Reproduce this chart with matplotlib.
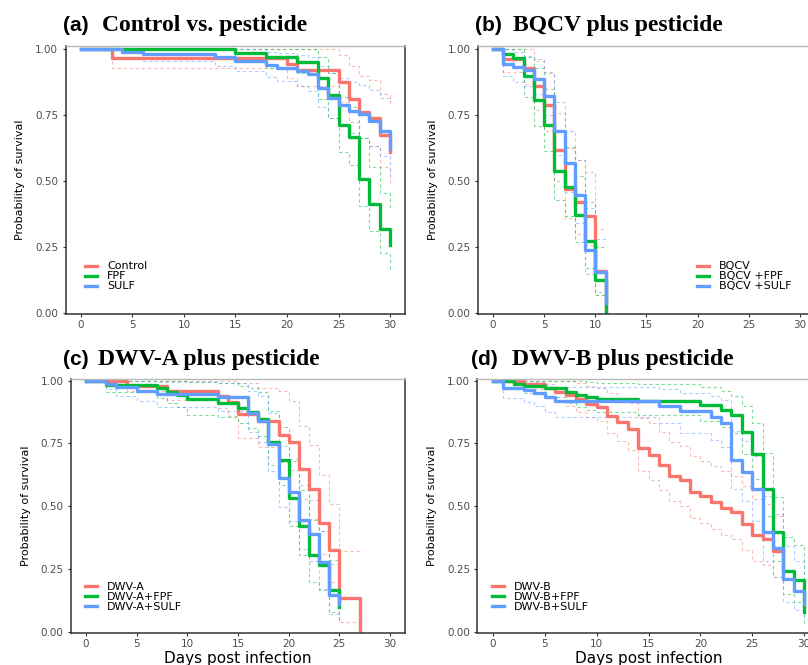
"""
Kaplan-Meier survival curves for the four infection / pesticide groups,
redrawn from the published figure (values read off the picture).
"""
import numpy as np
import matplotlib
matplotlib.use("Agg")
import matplotlib.pyplot as plt

W, H = 808, 665
nan = np.nan

# default ggplot colours for three groups
RED = "#F8766D"
GREEN = "#00BA38"
BLUE = "#619CFF"

# ---- (a) control vs pesticide ----
ctrl_t = [0, 3, 20, 21, 25, 26, 27, 28, 29, 30]
ctrl_s = [1.0, 0.966, 0.943, 0.921, 0.876, 0.81, 0.764, 0.74, 0.676, 0.612]
ctrl_up = [1.0, 1.0, 1.0, 1.0, 0.978, 0.935, 0.90, 0.883, 0.83, 0.78]
ctrl_lo = [1.0, 0.928, 0.89, 0.862, 0.80, 0.725, 0.665, 0.635, 0.555, 0.49]

fpf_t = [0, 15, 18, 21, 23, 24, 25, 26, 27, 28, 29, 30]
fpf_s = [1.0, 0.985, 0.97, 0.953, 0.89, 0.826, 0.713, 0.667, 0.51, 0.414, 0.318, 0.26]
fpf_up = [1.0, 1.0, 1.0, 1.0, 0.97, 0.91, 0.82, 0.78, 0.665, 0.555, 0.457, 0.39]
fpf_lo = [1.0, 0.957, 0.93, 0.91, 0.81, 0.738, 0.612, 0.56, 0.408, 0.31, 0.228, 0.165]

sulf_t = [0, 4, 6, 13, 15, 18, 19, 21, 22, 23, 24, 25, 26, 27, 28, 29, 30]
sulf_s = [1.0, 0.989, 0.981, 0.97, 0.956, 0.94, 0.928, 0.918, 0.905, 0.852, 0.815,
          0.79, 0.765, 0.753, 0.727, 0.689, 0.622]
sulf_up = [1.0, 1.0, 1.0, 1.0, 1.0, 0.99, 0.985, 0.98, 0.97, 0.935, 0.91, 0.89,
           0.875, 0.865, 0.845, 0.815, 0.80]
sulf_lo = [1.0, 0.968, 0.955, 0.938, 0.918, 0.895, 0.878, 0.862, 0.842, 0.782, 0.74,
           0.71, 0.682, 0.665, 0.632, 0.594, 0.52]

# ---- (b) BQCV plus pesticide ----
bqcv_t = [0, 1, 3, 4, 5, 6, 7, 8, 9, 10, 11]
bqcv_s = [1.0, 0.965, 0.93, 0.86, 0.788, 0.617, 0.47, 0.423, 0.367, 0.16, 0.0]
bqcv_up = [1.0, 1.0, 1.0, 0.955, 0.915, 0.757, 0.625, 0.58, 0.535, 0.32, nan]
bqcv_lo = [1.0, 0.915, 0.87, 0.77, 0.69, 0.50, 0.36, 0.30, 0.26, 0.07, nan]

bfpf_t = [0, 1, 2, 3, 4, 5, 6, 7, 8, 9, 10, 11]
bfpf_s = [1.0, 0.984, 0.968, 0.9, 0.808, 0.715, 0.537, 0.478, 0.374, 0.272, 0.127, 0.0]
bfpf_up = [1.0, 1.0, 1.0, 0.97, 0.93, 0.85, 0.69, 0.63, 0.52, 0.42, 0.25, nan]
bfpf_lo = [1.0, 0.958, 0.93, 0.82, 0.71, 0.615, 0.43, 0.37, 0.27, 0.17, 0.07, nan]

bsulf_t = [0, 1, 2, 3, 4, 5, 6, 7, 8, 9, 10, 11]
bsulf_s = [1.0, 0.945, 0.933, 0.92, 0.888, 0.823, 0.69, 0.568, 0.447, 0.24, 0.156, 0.037]
bsulf_up = [1.0, 1.0, 0.99, 0.975, 0.965, 0.91, 0.80, 0.69, 0.58, 0.40, 0.28, nan]
bsulf_lo = [1.0, 0.90, 0.875, 0.86, 0.83, 0.75, 0.60, 0.46, 0.34, 0.15, 0.08, nan]

# ---- (c) DWV-A plus pesticide ----
dwva_t = [0, 4, 8, 13, 14, 15, 17, 19, 20, 21, 22, 23, 24, 25, 27]
dwva_s = [1.0, 0.98, 0.96, 0.94, 0.915, 0.868, 0.838, 0.782, 0.756, 0.649, 0.57,
          0.434, 0.325, 0.134, 0.0]
dwva_up = [1.0, 1.0, 1.0, 1.0, 1.0, 0.99, 0.97, 0.96, 0.92, 0.82, 0.745, 0.625,
           0.51, 0.32, nan]
dwva_lo = [1.0, 0.96, 0.925, 0.89, 0.86, 0.77, 0.735, 0.675, 0.645, 0.53, 0.45,
           0.31, 0.20, 0.04, nan]

afpf_t = [0, 2, 7, 8, 9, 10, 13, 15, 16, 17, 18, 19, 20, 21, 22, 23, 24, 25]
afpf_s = [1.0, 0.984, 0.97, 0.956, 0.943, 0.926, 0.91, 0.893, 0.876, 0.849, 0.756,
          0.684, 0.533, 0.421, 0.307, 0.265, 0.165, 0.098]
afpf_up = [1.0, 1.0, 1.0, 1.0, 1.0, 0.995, 0.99, 0.98, 0.97, 0.955, 0.88, 0.815,
           0.68, 0.565, 0.445, 0.40, 0.285, 0.20]
afpf_lo = [1.0, 0.955, 0.93, 0.91, 0.895, 0.865, 0.855, 0.83, 0.81, 0.78, 0.665,
           0.585, 0.42, 0.305, 0.20, 0.165, 0.08, 0.04]

asulf_t = [0, 2, 3, 5, 7, 13, 16, 17, 18, 19, 20, 21, 22, 23, 24, 25]
asulf_s = [1.0, 0.988, 0.975, 0.959, 0.946, 0.935, 0.873, 0.838, 0.749, 0.612, 0.557,
           0.444, 0.391, 0.277, 0.147, 0.11]
asulf_up = [1.0, 1.0, 1.0, 1.0, 0.995, 0.99, 0.96, 0.94, 0.87, 0.74, 0.69, 0.585,
            0.525, 0.40, 0.27, 0.22]
asulf_lo = [1.0, 0.965, 0.94, 0.92, 0.895, 0.88, 0.795, 0.755, 0.64, 0.495, 0.44,
            0.33, 0.28, 0.17, 0.07, 0.05]

# ---- (d) DWV-B plus pesticide ----
dwvb_t = [0, 3, 5, 6, 7, 8, 9, 10, 11, 12, 13, 14, 15, 16, 17, 18, 19, 20, 21, 22,
          23, 24, 25, 26, 27, 28]
dwvb_s = [1.0, 0.988, 0.971, 0.957, 0.944, 0.928, 0.908, 0.896, 0.86, 0.835, 0.807,
          0.73, 0.703, 0.665, 0.62, 0.603, 0.556, 0.539, 0.517, 0.493, 0.477, 0.43,
          0.384, 0.368, 0.32, 0.32]
dwvb_up = [1.0, 1.0, 1.0, 1.0, 1.0, 0.99, 0.98, 0.97, 0.95, 0.93, 0.91, 0.85, 0.83,
           0.795, 0.755, 0.74, 0.70, 0.68, 0.66, 0.64, 0.62, 0.58, 0.53, 0.51, 0.46,
           0.46]
dwvb_lo = [1.0, 0.965, 0.94, 0.92, 0.90, 0.875, 0.855, 0.84, 0.79, 0.76, 0.725, 0.64,
           0.605, 0.565, 0.52, 0.50, 0.455, 0.435, 0.41, 0.385, 0.37, 0.325, 0.28,
           0.265, 0.22, 0.22]

dfpf_t = [0, 2, 3, 5, 7, 8, 9, 10, 14, 20, 22, 23, 24, 25, 26, 27, 28, 29, 30]
dfpf_s = [1.0, 0.988, 0.979, 0.971, 0.957, 0.944, 0.935, 0.928, 0.92, 0.902, 0.882,
          0.865, 0.796, 0.709, 0.57, 0.397, 0.24, 0.208, 0.08]
dfpf_up = [1.0, 1.0, 1.0, 1.0, 1.0, 1.0, 0.995, 0.99, 0.985, 0.975, 0.96, 0.94, 0.90,
           0.83, 0.713, 0.537, 0.378, 0.344, 0.20]
dfpf_lo = [1.0, 0.965, 0.95, 0.935, 0.91, 0.895, 0.885, 0.875, 0.865, 0.84, 0.815,
           0.79, 0.71, 0.61, 0.46, 0.28, 0.15, 0.12, 0.03]

dsulf_t = [0, 1, 3, 4, 5, 6, 16, 18, 21, 22, 23, 24, 25, 26, 27, 28, 29, 30]
dsulf_s = [1.0, 0.972, 0.962, 0.95, 0.935, 0.918, 0.899, 0.878, 0.855, 0.833, 0.683,
           0.635, 0.567, 0.398, 0.332, 0.212, 0.163, 0.11]
dsulf_up = [1.0, 1.0, 1.0, 0.995, 0.985, 0.975, 0.965, 0.95, 0.94, 0.925, 0.80, 0.76,
            0.70, 0.54, 0.47, 0.34, 0.28, 0.22]
dsulf_lo = [1.0, 0.93, 0.915, 0.90, 0.875, 0.855, 0.83, 0.79, 0.765, 0.735, 0.57,
            0.52, 0.44, 0.28, 0.22, 0.12, 0.085, 0.05]

labels_a = ["Control", "FPF", "SULF"]
labels_b = ["BQCV", "BQCV +FPF", "BQCV +SULF"]
labels_c = ["DWV-A", "DWV-A+FPF", "DWV-A+SULF"]
labels_d = ["DWV-B", "DWV-B+FPF", "DWV-B+SULF"]

x_ticks = [0, 5, 10, 15, 20, 25, 30]
y_ticks = [0.0, 0.25, 0.5, 0.75, 1.0]
y_tick_labels = ["0.00", "0.25", "0.50", "0.75", "1.00"]


def px_axes(fig, left, top, right, bottom):
    """Add an axes given its edges in pixels from the top left corner"""
    return fig.add_axes([left / W, 1 - bottom / H, (right - left) / W, (bottom - top) / H])


def draw_panel(ax, series, labels, ylim, legend_xy, show_xlabel):
    """Draws the three survival curves with their dashed confidence steps"""
    colours = [RED, GREEN, BLUE]
    # confidence limits first so the curves sit on top
    for (t, s, up, lo), colour in zip(series, colours):
        ax.step(t, up, where="post", color=colour, lw=0.8, alpha=0.5, dashes=(3, 2.5))
        ax.step(t, lo, where="post", color=colour, lw=0.8, alpha=0.5, dashes=(3, 2.5))
    for (t, s, up, lo), colour, label in zip(series, colours, labels):
        ax.step(t, s, where="post", color=colour, lw=2.4, label=label)

    ax.set_xlim(-1.5, 31.5)
    ax.set_ylim(*ylim)
    ax.set_xticks(x_ticks)
    ax.set_yticks(y_ticks)
    ax.set_yticklabels(y_tick_labels)
    ax.tick_params(length=2.2, width=0.8, color="#333333", labelcolor="#4d4d4d",
                   labelsize=7.5)
    ax.tick_params(axis="x", pad=2)
    ax.tick_params(axis="y", pad=3)
    for side in ["left", "bottom", "right"]:
        ax.spines[side].set_color("#333333")
        ax.spines[side].set_linewidth(1.1)
    ax.spines["top"].set_color("#b8b8b8")
    ax.spines["top"].set_linewidth(1.0)

    ax.set_ylabel("Probability of survival", fontsize=8, color="black")
    ax.yaxis.set_label_coords(-0.118, 0.5)
    if show_xlabel:
        ax.set_xlabel("Days post infection", fontsize=11, color="black")
        ax.xaxis.set_label_coords(0.5, -0.071)

    ax.legend(loc="upper left", bbox_to_anchor=legend_xy, frameon=False,
              fontsize=8, handlelength=1.1, handletextpad=0.9,
              labelspacing=0.0, borderpad=0, borderaxespad=0)


def title(fig, x_tag, x_text, y, tag, text):
    """Panel title: sans serif tag followed by a bold serif heading"""
    fig.text(x_tag / W, 1 - y / H, tag, family="Liberation Sans", weight="bold",
             fontsize=15, va="baseline")
    fig.text(x_text / W, 1 - y / H, text, family="Liberation Serif", weight="bold",
             fontsize=17, va="baseline")


fig = plt.figure(figsize=(W / 100, H / 100), dpi=100)

ax_a = px_axes(fig, 65.5, 46, 405.5, 314)
draw_panel(ax_a,
           [(ctrl_t, ctrl_s, ctrl_up, ctrl_lo), (fpf_t, fpf_s, fpf_up, fpf_lo),
            (sulf_t, sulf_s, sulf_up, sulf_lo)],
           labels_a, (-0.003, 1.0125), (0.057, 0.196), False)

ax_b = px_axes(fig, 477.6, 46, 815.3, 314)
draw_panel(ax_b,
           [(bqcv_t, bqcv_s, bqcv_up, bqcv_lo), (bfpf_t, bfpf_s, bfpf_up, bfpf_lo),
            (bsulf_t, bsulf_s, bsulf_up, bsulf_lo)],
           labels_b, (-0.003, 1.0125), (0.65, 0.196), False)

ax_c = px_axes(fig, 70.8, 378.7, 405.2, 633)
draw_panel(ax_c,
           [(dwva_t, dwva_s, dwva_up, dwva_lo), (afpf_t, afpf_s, afpf_up, afpf_lo),
            (asulf_t, asulf_s, asulf_up, asulf_lo)],
           labels_c, (-0.005, 1.008), (0.0425, 0.202), True)

ax_d = px_axes(fig, 477.4, 378.7, 819.6, 633)
draw_panel(ax_d,
           [(dwvb_t, dwvb_s, dwvb_up, dwvb_lo), (dfpf_t, dfpf_s, dfpf_up, dfpf_lo),
            (dsulf_t, dsulf_s, dsulf_up, dsulf_lo)],
           labels_d, (-0.005, 1.008), (0.0427, 0.202), True)

title(fig, 63, 102, 31, "(a)", "Control vs. pesticide")
title(fig, 475, 513, 31, "(b)", "BQCV plus pesticide")
title(fig, 63, 98, 365, "(c)", "DWV-A plus pesticide")
title(fig, 471, 512, 365, "(d)", "DWV-B plus pesticide")

fig.savefig("out.png", dpi=100)
